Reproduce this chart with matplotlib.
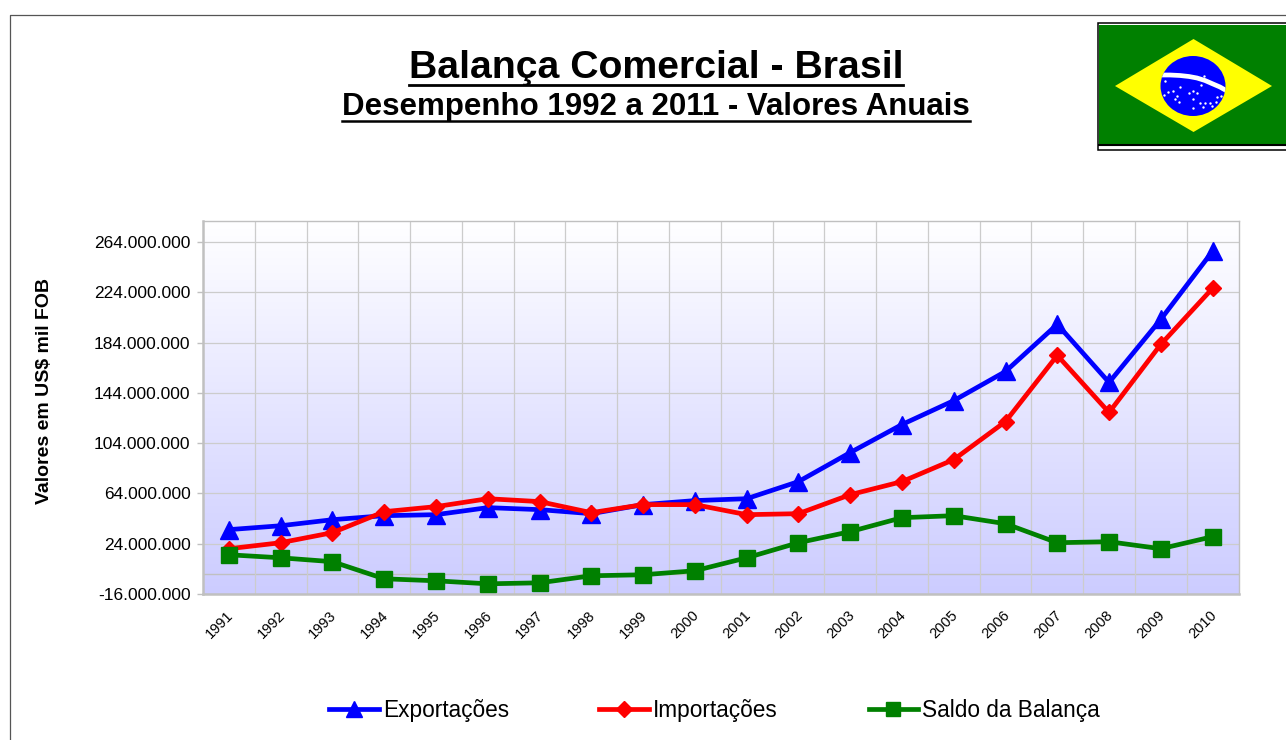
import numpy as np
import matplotlib
matplotlib.use('Agg')
import matplotlib.pyplot as plt
from matplotlib.lines import Line2D
from matplotlib.patches import Polygon, Ellipse, Rectangle
from matplotlib.transforms import ScaledTranslation

plt.rcParams['font.family'] = ['Liberation Sans', 'DejaVu Sans']

anos = list(range(1991, 2011))
exportacoes = [35.2, 38.3, 43.1, 46.3, 47.1, 52.7, 51.1, 47.9, 55.1, 58.3,
               59.8, 73.4, 96.5, 118.8, 137.8, 161.0, 198.5, 152.3, 202.5, 256.7]
importacoes = [20.0, 24.8, 32.8, 49.5, 53.5, 59.8, 57.5, 48.7, 55.1, 55.1,
               47.1, 47.9, 63.0, 73.4, 90.9, 121.2, 173.8, 128.4, 182.6, 227.2]
saldo = [15.2, 12.8, 9.7, -3.9, -5.5, -7.9, -7.1, -1.5, -0.7, 2.5,
         12.8, 24.8, 33.6, 44.7, 46.3, 39.9, 24.8, 25.6, 20.0, 29.6]
y_ticks = [-16, 24, 64, 104, 144, 184, 224, 264]
y_labels = ['-16.000.000', '24.000.000', '64.000.000', '104.000.000',
            '144.000.000', '184.000.000', '224.000.000', '264.000.000']

W, H = 1286, 740
fig = plt.figure(figsize=(W / 100, H / 100), dpi=100, facecolor='white')


def px_axes(x0, y0, x1, y1, **kw):
    # pixel box, y measured from the top
    return fig.add_axes([x0 / W, 1 - y1 / H, (x1 - x0) / W, (y1 - y0) / H], **kw)


ax = px_axes(203, 221, 1238.5, 594)

# gradient background
grad = np.linspace(0, 1, 256)[:, None]
cols = np.ones((256, 1, 3))
cols[:, :, 0] = 1 - grad * 0.2
cols[:, :, 1] = 1 - grad * 0.2
ax.imshow(cols, extent=(0, 1, 0, 1), transform=ax.transAxes, aspect='auto', zorder=0)

x = np.arange(len(anos))
ax.plot(x, exportacoes, color='#0000ff', lw=3.4, marker='^', ms=13, zorder=3,
        label='Exportações', clip_on=False)
ax.plot(x, importacoes, color='#ff0000', lw=3.4, marker='D', ms=8.5, zorder=4,
        label='Importações', clip_on=False)
ax.plot(x, saldo, color='#008000', lw=3.4, marker='s', ms=11.5, zorder=5,
        label='Saldo da Balança', clip_on=False)

ax.set_xlim(-0.5, 19.5)
ax.set_ylim(-16, 280.7)
ax.set_yticks(y_ticks)
ax.set_yticklabels(y_labels, fontsize=12.5, color='black')
ax.set_xticks(x)
ax.set_xticklabels(anos, fontsize=10.5, rotation=45, ha='right', rotation_mode='anchor')
ax.tick_params(axis='x', length=0, pad=10)
ax.tick_params(axis='y', length=4, width=1, color='#c0c0c0', pad=5)
# year labels sit a little left of the category centre
for lab in ax.get_xticklabels():
    lab.set_transform(lab.get_transform() + ScaledTranslation(-3 / 100, 0, fig.dpi_scale_trans))

for yt in y_ticks:
    ax.axhline(yt, color='#cccccc', lw=0.9, zorder=1)
ax.axhline(0, color='#c0c0c0', lw=1.0, zorder=1)
for xv in np.arange(0.5, 19.5):
    ax.axvline(xv, color='#cccccc', lw=0.9, zorder=1)

for s in ax.spines.values():
    s.set_color('#c0c0c0')
    s.set_linewidth(1)
ax.spines['left'].set_linewidth(1.8)
ax.spines['bottom'].set_linewidth(1.8)

fig.text(44.5 / W, 1 - 391 / H, 'Valores em US$ mil FOB', rotation=90, fontsize=14,
         fontweight='bold', ha='center', va='center')

leg = ax.legend(loc='center', bbox_to_anchor=(714.5 / W, 1 - 710 / H),
                bbox_transform=fig.transFigure, ncol=3, frameon=False, fontsize=16.3,
                handlelength=2.2, handletextpad=0.18, columnspacing=4.0, borderpad=0,
                markerscale=0.9)

# outer frame
fig.add_artist(Line2D([10 / W, 10 / W, 1], [0, 1 - 14.5 / H, 1 - 14.5 / H],
                      color='#555555', lw=0.9))

# titles with underline
t1 = fig.text(656 / W, 1 - 67.5 / H, 'Balança Comercial - Brasil', fontsize=28.3,
              fontweight='bold', ha='center', va='center')
t2 = fig.text(656 / W, 1 - 106.5 / H, 'Desempenho 1992 a 2011 - Valores Anuais', fontsize=22.5,
              fontweight='bold', ha='center', va='center')
fig.canvas.draw()
r = fig.canvas.get_renderer()
for t, yu, lw in [(t1, 84.5, 2.0), (t2, 120.5, 1.8)]:
    bb = t.get_window_extent(r)
    fig.add_artist(Line2D([bb.x0 / W, bb.x1 / W], [1 - yu / H, 1 - yu / H], color='black', lw=lw))

# flag, drawn in picture pixels
fl = px_axes(1096, 21, 1286, 151)
fl.set_xlim(1096, 1286)
fl.set_ylim(151, 21)
fl.axis('off')
fl.add_patch(Rectangle((1097.5, 22.5), 190, 127, fc='white', ec='black', lw=1.1))
fl.add_patch(Rectangle((1099, 25), 188, 119.5, fc='#008000', ec='none'))
fl.plot([1098, 1286], [145.3, 145.3], color='black', lw=1.5, solid_capstyle='butt')
fl.add_patch(Polygon([(1115, 86), (1193.5, 39), (1272, 86), (1193.5, 132)], fc='#ffff00', ec='none'))
disc = Ellipse((1193, 86), 65, 60, fc='#0000ff', ec='none')
fl.add_patch(disc)
band_x = [1160, 1170, 1180, 1189, 1197, 1205, 1213, 1220, 1227]
band_y = [75, 75, 75.5, 76.5, 78, 80.5, 84, 87, 91]
band, = fl.plot(band_x, band_y, color='white', lw=3.4)
band.set_clip_path(disc)
fl.scatter([1165, 1170, 1175, 1180, 1185, 1191, 1196, 1201, 1206, 1211, 1216, 1221],
           [75, 75, 75, 75.5, 76, 77, 78, 79.5, 81, 83.5, 86, 88.5],
           s=2, color='#3c8c3c', lw=0)
star_x = [1165, 1168, 1164, 1173, 1180, 1177, 1175, 1179, 1193, 1189, 1197, 1193,
          1200, 1205, 1210, 1203, 1212, 1216, 1217, 1221, 1193, 1204, 1201]
star_y = [81, 92, 95, 91, 87, 96, 99, 102, 91, 93, 93, 99,
          103, 103, 103, 107, 106, 102, 97, 96, 108, 76, 85]
fl.scatter(star_x, star_y, s=3, color='white', lw=0, zorder=5)

fig.savefig('out.png', dpi=100)
